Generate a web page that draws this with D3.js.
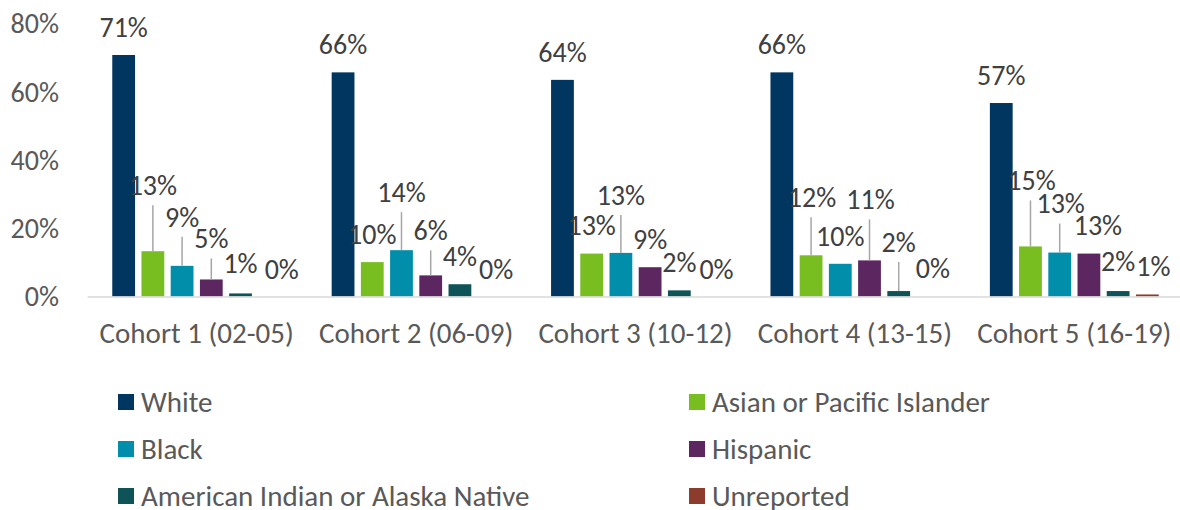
<!DOCTYPE html>
<html>
<head>
<meta charset="utf-8">
<script src="https://cdn.jsdelivr.net/npm/d3@7"></script>
<style>
  body { margin: 0; background: #fff; }
  svg { font-family: Carlito, Calibri, Lato, sans-serif; }
</style>
</head>
<body>
<svg id="chart" width="1180" height="510"></svg>
<script>
// data
const cohorts = ["Cohort 1 (02-05)", "Cohort 2 (06-09)", "Cohort 3 (10-12)", "Cohort 4 (13-15)", "Cohort 5 (16-19)"];
const series = ["White", "Asian or Pacific Islander", "Black", "Hispanic", "American Indian or Alaska Native", "Unreported"];
const white = [70.9, 65.8, 63.6, 65.8, 56.8];
const asian = [13.3, 10.1, 12.6, 12.1, 14.7];
const black = [9.0, 13.6, 12.8, 9.6, 12.9];
const hispanic = [5.0, 6.2, 8.6, 10.6, 12.6];
const aian = [0.9, 3.6, 1.8, 1.6, 1.6];
const unreported = [0, 0, 0, 0, 0.6];
const yTicks = [0, 20, 40, 60, 80];

const colors = ["#003660", "#78BE21", "#008EAA", "#5C2761", "#0E5357", "#8C3B2C"];

// hand-moved data labels (dx, dy in px), like the original
const labelNudge = [
  [[0, 0], [0, 0], [0, 0], [0, 0], [0, 0]],
  [[0, -38], [0, 0], [0, 0], [1, -30], [1, -38]],
  [[0, -21], [0, -30], [0, -30], [0, 0], [1, -21]],
  [[0, -13], [0, -17], [0, 0], [1, -33], [9, 0]],
  [[0, -2], [0, 0], [0, 0], [0, -21], [0, -2]],
  [[12, 1], [7, 1], [8, 1], [5, 0], [6, 0]]
];

const labelSize = "28px";
const textSize = "29px";

const values = [white, asian, black, hispanic, aian, unreported];
const rows = cohorts.map((c, i) => ({
  cohort: c,
  bars: series.map((s, j) => ({ s, j, i, v: values[j][i] }))
}));

const svg = d3.select("#chart");

const x0 = d3.scaleBand()
  .domain(cohorts)
  .range([87, 1184])
  .padding(0);

const x1 = d3.scaleBand()
  .domain(series)
  .range([0, x0.bandwidth()])
  .paddingInner(0.22)
  .paddingOuter(0.865);

const y = d3.scaleLinear()
  .domain([0, 80])
  .range([296.5, 24]);

// y axis (labels only)
svg.append("g")
  .attr("transform", "translate(87,0)")
  .call(d3.axisLeft(y).tickValues(yTicks).tickSize(0).tickPadding(28).tickFormat(d => d + "%"))
  .attr("font-family", null)
  .attr("font-size", labelSize)
  .call(g => g.select(".domain").remove())
  .call(g => g.selectAll("text").attr("fill", "#595959"));

// bars
const groups = svg.append("g")
  .selectAll("g")
  .data(rows)
  .join("g")
  .attr("transform", d => `translate(${x0(d.cohort)},0)`);

groups.selectAll("rect")
  .data(d => d.bars)
  .join("rect")
  .attr("x", d => x1(d.s))
  .attr("y", d => y(d.v))
  .attr("width", x1.bandwidth())
  .attr("height", d => y(0) - y(d.v))
  .attr("fill", d => colors[d.j]);

// x axis
svg.append("g")
  .attr("transform", `translate(0,${y(0)})`)
  .call(d3.axisBottom(x0).tickSize(0).tickSizeOuter(0).tickPadding(26))
  .attr("font-family", null)
  .attr("font-size", textSize)
  .call(g => g.select(".domain").attr("stroke", "#D9D9D9").attr("stroke-width", 1.5))
  .call(g => g.selectAll("text").attr("fill", "#595959"));

// leader lines + data labels
const labelY = d => y(d.v) - 28 + labelNudge[d.j][d.i][1];
const labelX = d => x1(d.s) + x1.bandwidth() / 2 + labelNudge[d.j][d.i][0];

groups.selectAll("line.leader")
  .data(d => d.bars.filter(b => labelNudge[b.j][b.i][1] <= -10))
  .join("line")
  .attr("class", "leader")
  .attr("x1", d => x1(d.s) + x1.bandwidth() / 2)
  .attr("x2", d => x1(d.s) + x1.bandwidth() / 2)
  .attr("y1", d => y(d.v))
  .attr("y2", d => labelY(d) + 20)
  .attr("stroke", "#A6A6A6")
  .attr("stroke-width", 1.5);

groups.selectAll("text.lbl")
  .data(d => d.bars)
  .join("text")
  .attr("class", "lbl")
  .attr("x", labelX)
  .attr("y", labelY)
  .attr("dy", "0.35em")
  .attr("text-anchor", "middle")
  .attr("fill", "#404040")
  .style("font-size", labelSize)
  .text(d => Math.round(d.v) + "%");

// legend, two columns
const legend = svg.append("g")
  .selectAll("g")
  .data(series)
  .join("g")
  .attr("transform", (d, k) => `translate(${k % 2 === 0 ? 118 : 689},${402 + Math.floor(k / 2) * 47})`);

legend.append("rect")
  .attr("x", 0)
  .attr("y", -8)
  .attr("width", 16)
  .attr("height", 16)
  .attr("fill", (d, k) => colors[k]);

legend.append("text")
  .attr("x", 23)
  .attr("dy", "0.35em")
  .attr("fill", "#595959")
  .style("font-size", textSize)
  .text(d => d);
</script>
</body>
</html>
